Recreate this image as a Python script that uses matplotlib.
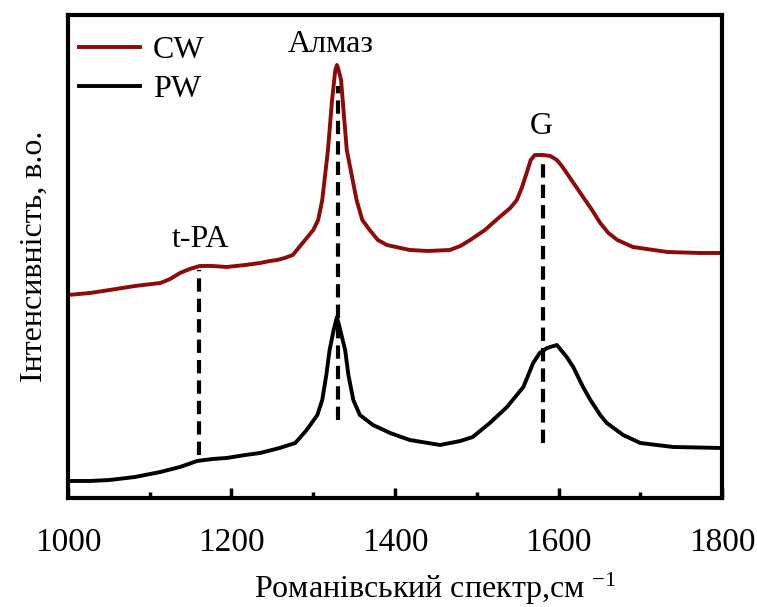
import numpy as np
import matplotlib
matplotlib.use("Agg")
import matplotlib.pyplot as plt
from matplotlib.ticker import MultipleLocator

# -------------------
# DATA (arbitrary intensity units)
# -------------------
cw_x = [1000, 1027, 1051, 1082, 1113, 1125, 1137, 1149, 1161, 1177, 1194, 1217,
        1235, 1247, 1256, 1265, 1275, 1280, 1290, 1300, 1306, 1311, 1318, 1323,
        1327, 1329, 1331, 1334, 1336, 1341, 1353, 1360, 1369, 1379, 1390, 1418,
        1440, 1467, 1480, 1492, 1510, 1528, 1541, 1549, 1555, 1561, 1566, 1571,
        1581, 1590, 1598, 1604, 1610, 1620, 1630, 1641, 1651, 1661, 1672, 1691,
        1733, 1773, 1800]
cw_y = [203, 205, 208, 212, 215, 219, 225, 229, 232, 232, 231, 233,
        235, 237, 238, 240, 243, 248, 258, 268, 278, 298, 348, 398,
        428, 433, 428, 418, 398, 348, 298, 278, 268, 258, 253, 248,
        247, 248, 252, 258, 268, 281, 290, 298, 310, 325, 338, 343,
        343, 342, 338, 332, 325, 313, 301, 288, 275, 265, 258, 251,
        246, 245, 245]

pw_x = [1000, 1027, 1051, 1082, 1113, 1137, 1158, 1177, 1194, 1217, 1235, 1259,
        1278, 1292, 1305, 1311, 1316, 1320, 1325, 1329, 1333, 1339, 1343, 1349,
        1357, 1373, 1394, 1418, 1455, 1480, 1495, 1516, 1537, 1557, 1569, 1577,
        1586, 1598, 1610, 1618, 1630, 1639, 1651, 1659, 1679, 1700, 1740, 1800]
pw_y = [17, 17, 18, 21, 26, 31, 37, 39, 40, 43, 45, 50,
        55, 68, 83, 98, 123, 148, 168, 181, 168, 148, 123, 98,
        83, 73, 65, 58, 53, 57, 61, 75, 91, 111, 135, 145,
        150, 153, 141, 131, 111, 98, 83, 75, 63, 55, 51, 50]

# peak markers: position, line bottom, line top, label
peak_pos = [1160, 1330, 1581]
peak_lo = [43, 78, 55]
peak_hi = [228, 412, 338]
peak_labels = ["t-PA", "Алмаз", "G"]
label_x = [1162, 1322, 1579]
label_y = [258, 453, 371]

# -------------------
# PLOT
# -------------------
plt.rcParams['font.family'] = ['Liberation Serif', 'DejaVu Serif']
plt.rcParams['mathtext.fontset'] = 'custom'
plt.rcParams['mathtext.rm'] = 'Liberation Serif'
plt.rcParams['mathtext.it'] = 'Liberation Serif'

fig = plt.figure(figsize=(7.57, 6.07), dpi=100)
ax = fig.add_axes([0.0898, 0.1796, 0.864, 0.7957])

for px, lo, hi in zip(peak_pos, peak_lo, peak_hi):
    ax.plot([px, px], [lo, hi], color='black', linewidth=3.0,
            linestyle=(0, (3.2, 1.7)), zorder=3)

ax.plot(cw_x, cw_y, color='#8e0a0a', linewidth=2.8, label='CW', zorder=2)
ax.plot(pw_x, pw_y, color='black', linewidth=2.8, label='PW', zorder=2)

for lx, ly, txt in zip(label_x, label_y, peak_labels):
    ax.text(lx, ly, txt, ha='center', va='center', fontsize=23)

ax.set_xlim(1000, 1800)
ax.set_ylim(0, 483)
ax.set_yticks([])
ax.xaxis.set_major_locator(MultipleLocator(200))
ax.xaxis.set_minor_locator(MultipleLocator(100))
ax.tick_params(axis='x', which='major', direction='in', length=7, width=2.5,
               labelsize=24, pad=21)
ax.tick_params(axis='x', which='minor', direction='in', length=4, width=2.5)
for sp in ax.spines.values():
    sp.set_linewidth(3)

ax.set_xlabel("Романівський спектр,см $^{-1}$", fontsize=23)
ax.xaxis.set_label_coords(0.561, -0.150)
ax.set_ylabel("Інтенсивність, в.о.", fontsize=23, labelpad=14)

ax.legend(loc='upper left', bbox_to_anchor=(0.0, 0.981), frameon=False,
          fontsize=23, handlelength=1.9, labelspacing=0.32, borderaxespad=0.0,
          handletextpad=0.4, borderpad=0.35)

plt.savefig("out.png", dpi=100)
